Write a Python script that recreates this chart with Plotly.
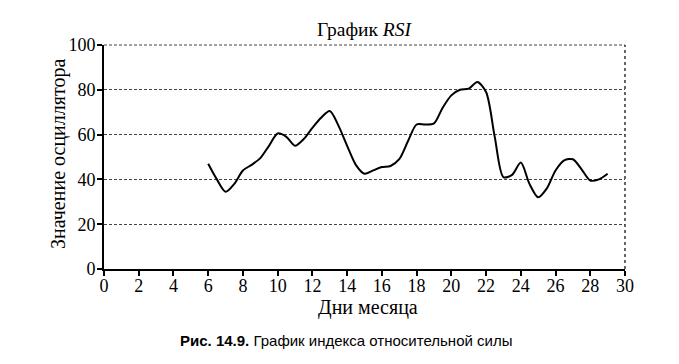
import plotly.graph_objects as go

days = [6, 6.5, 7, 7.5, 8, 8.5, 9, 9.5, 10, 10.5, 11, 11.5, 12, 12.5, 13, 13.5,
        14, 14.5, 15, 15.5, 16, 16.5, 17, 17.5, 18, 18.5, 19, 19.5, 20, 20.5,
        21, 21.5, 22, 22.5, 23, 23.5, 24, 24.5, 25, 25.5, 26, 26.5, 27, 27.5,
        28, 28.5, 29]
rsi = [47, 40, 34.5, 38, 44, 46.5, 49.5, 55, 60.5, 59, 55, 58, 63, 67.5, 70.5, 64,
       55, 46.5, 42.5, 44, 45.5, 46, 49, 57, 64.5, 64.5, 65, 72, 77.5, 80,
       80.5, 83.5, 79, 59, 41, 42, 47.5, 38, 32, 36, 44, 48.5, 49, 44.5,
       39.5, 40, 42.5]

x_ticks = list(range(0, 31, 2))
y_ticks = list(range(0, 101, 20))

serif = "Liberation Serif"

# page has an 8px body margin; figure coords = page coords - 8
W, H = 671, 356
L, T, R, B = 96, 37, 617, 261   # plot area in figure coords
PW, PH = R - L, B - T

fig = go.Figure()
fig.add_trace(go.Scatter(x=days, y=rsi, mode="lines",
                         line=dict(color="black", width=2, shape="spline", smoothing=0.8),
                         showlegend=False, hoverinfo="skip"))

fig.update_layout(
    width=W, height=H,
    margin=dict(l=L, r=W - R, t=T, b=H - B, autoexpand=False),
    paper_bgcolor="white", plot_bgcolor="white",
    title=dict(text="График <i>RSI</i>", x=(364 - 8) / W, xanchor="center",
               y=1 - 21 / H, yanchor="middle", automargin=False,
               font=dict(family=serif, size=19.5, color="black")),
    font=dict(family=serif, color="black"),
)
fig.update_xaxes(range=[0, 30], tickvals=x_ticks, ticktext=[str(v) for v in x_ticks],
                 showline=True, linecolor="black", linewidth=2,
                 ticks="outside", ticklen=5, tickwidth=1.5, tickcolor="black",
                 showgrid=False, zeroline=False, automargin=False,
                 ticklabelstandoff=-6,
                 tickfont=dict(family=serif, size=18, color="black"))
fig.update_yaxes(range=[0, 100], tickvals=y_ticks, ticktext=[str(v) for v in y_ticks],
                 showline=True, linecolor="black", linewidth=2,
                 ticks="outside", ticklen=5, tickwidth=1.5, tickcolor="black",
                 showgrid=True, gridcolor="#444", gridwidth=1, griddash="3px,2px",
                 zeroline=False, automargin=False,
                 ticklabelstandoff=-2,
                 tickfont=dict(family=serif, size=18, color="black"))

# axis titles
fig.add_annotation(text="Дни месяца", xref="paper", yref="paper",
                   x=(368 - 104) / 521, y=-(307 - 269) / 224, xanchor="center", yanchor="middle",
                   showarrow=False, font=dict(family=serif, size=20, color="black"))
fig.add_annotation(text="Значение осциллятора", xref="paper", yref="paper",
                   x=-(104 - 58) / 521, y=(269 - 154) / 224, xanchor="center", yanchor="middle",
                   textangle=-90, showarrow=False, font=dict(family=serif, size=20, color="black"))

# dotted top and right frame edges
fig.add_shape(type="line", xref="paper", yref="paper", x0=0, x1=1, y0=1, y1=1,
              line=dict(color="#444", width=1, dash="3px,2px"))
fig.add_shape(type="line", xref="paper", yref="paper", x0=1, x1=1, y0=0, y1=1,
              line=dict(color="#333", width=1.5, dash="dot"))

fig.add_annotation(text="<b>Рис. 14.9.</b> График индекса относительной силы",
                   xref="paper", yref="paper", x=(346 - 104) / 521, y=-(340 - 269) / 224,
                   xanchor="center", yanchor="middle", showarrow=False,
                   font=dict(family="Liberation Sans Narrow, Liberation Sans, Arial", size=15, color="black"))

fig.write_html("out.html")
